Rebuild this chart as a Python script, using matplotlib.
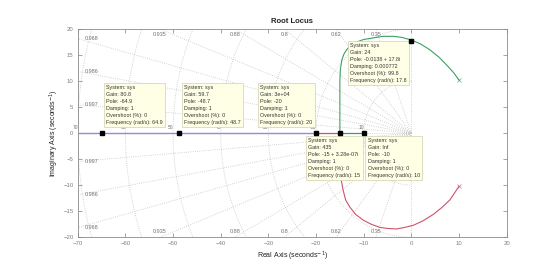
import numpy as np
import matplotlib
matplotlib.use('Agg')
import matplotlib.pyplot as plt

plt.rcParams['font.family'] = ['Liberation Sans', 'DejaVu Sans']

# branches
green_re = [10.0, 8.8, 7.4, 5.8, 3.9, 2.0, 0.0, -2.0, -3.8, -6.0, -8.0, -10.0, -11.5, -12.7,
            -13.6, -14.2, -14.6, -14.9, -15.0, -15.0]
green_im = [10.2, 11.7, 13.1, 14.6, 16.0, 17.1, 17.9, 18.4, 18.6, 18.6, 18.3, 18.0, 17.5, 16.9,
            16.0, 15.1, 14.0, 12.2, 10.0, 0.0]
red_re = [10.0, 9.2, 8.1, 6.5, 4.6, 2.5, 0.4, -1.4, -3.1, -4.9, -6.6, -8.4, -10.1, -11.7,
          -12.9, -13.8, -14.3, -14.8, -15.0, -15.0]
red_im = [-10.2, -11.3, -12.8, -14.2, -15.6, -16.8, -17.7, -18.1, -18.4, -18.3, -18.1, -17.5,
          -16.7, -15.6, -14.2, -12.8, -11.0, -8.6, -5.8, 0.0]
green_real_re = [-15.0, -10.0]
red_real_re = [-20.0, -15.0]
blue_re = [-70.0, -20.0]

pole_re = [10.0, 10.0, -20.0]
pole_im = [10.2, -10.2, 0.0]

damping = [0.35, 0.62, 0.8, 0.88, 0.935, 0.968, 0.986, 0.997]
freqs = [10, 20, 30, 40, 50, 60, 70]

tip_re = [-64.9, -48.7, -20.0, -0.0138, -15.0, -10.0]
tip_im = [0.0, 0.0, 0.0, 17.8, 0.0, 0.0]
tip_text = [
    'System: sys\nGain: 80.8\nPole: -64.9\nDamping: 1\nOvershoot (%): 0\nFrequency (rad/s): 64.9',
    'System: sys\nGain: 59.7\nPole: -48.7\nDamping: 1\nOvershoot (%): 0\nFrequency (rad/s): 48.7',
    'System: sys\nGain: 3e+04\nPole: -20\nDamping: 1\nOvershoot (%): 0\nFrequency (rad/s): 20',
    'System: sys\nGain: 24\nPole: -0.0138 + 17.8i\nDamping: 0.000772\nOvershoot (%): 99.8\nFrequency (rad/s): 17.8',
    'System: sys\nGain: 435\nPole: -15 + 3.28e-07i\nDamping: 1\nOvershoot (%): 0\nFrequency (rad/s): 15',
    'System: sys\nGain: Inf\nPole: -10\nDamping: 1\nOvershoot (%): 0\nFrequency (rad/s): 10',
]
tip_box = [(-64.0, 9.2), (-47.7, 9.2), (-31.7, 9.2), (-12.9, 17.3), (-21.6, -0.9), (-9.2, -0.9)]

grid_c = '#c4c4c4'
lab_c = '#707070'
blue = '#8c8ce0'
green = '#3f9f63'
red = '#d2506a'

fig = plt.figure(figsize=(5.6, 2.67), dpi=100)
ax = fig.add_axes([0.1388, 0.1112, 0.766, 0.780])
xmin, xmax, ymin, ymax = -70, 20, -20, 20

# damping lines
for z in damping:
    s = np.sqrt(1 - z**2)
    for sign in (1, -1):
        r = 200
        ax.plot([0, -z*r], [0, sign*s*r], ls=':', color=grid_c, lw=0.6, zorder=1)
    xt = -ymax*z/s
    if xt > xmin:
        ax.text(xt, 18.9, str(z), fontsize=4, color=lab_c, ha='center', va='center', zorder=2)
        ax.text(xt, -18.9, str(z), fontsize=4, color=lab_c, ha='center', va='center', zorder=2)
    else:
        yt = -xmin*s/z
        ax.text(-68.5, yt, str(z), fontsize=4, color=lab_c, ha='left', va='center', zorder=2)
        ax.text(-68.5, -yt, str(z), fontsize=4, color=lab_c, ha='left', va='center', zorder=2)
ax.plot([0, 0], [ymin, ymax], ls=':', color=grid_c, lw=0.6, zorder=1)
ax.plot([xmin, 0], [0, 0], ls=':', color=grid_c, lw=0.6, zorder=1)

# frequency circles
th = np.linspace(np.pi/2, 3*np.pi/2, 200)
for w in freqs:
    ax.plot(w*np.cos(th), w*np.sin(th), ls=':', color=grid_c, lw=0.6, zorder=1)
    ax.text(-w - 0.5, 0.6, str(w), fontsize=3.5, color=lab_c, ha='center', va='bottom', zorder=2)

# locus
ax.plot(blue_re, [0, 0], color=blue, lw=1.0, zorder=3)
ax.plot(red_real_re, [0, 0], color=red, lw=0.9, zorder=3)
ax.plot(green_real_re, [0, 0], color=green, lw=0.9, zorder=3)
ax.plot(green_re, green_im, color=green, lw=0.8, zorder=3)
ax.plot(red_re, red_im, color=red, lw=0.8, zorder=3)
ax.plot(pole_re[0], pole_im[0], 'x', color=green, ms=3, mew=0.6, zorder=4, alpha=0.7)
ax.plot(pole_re[1], pole_im[1], 'x', color=red, ms=3, mew=0.6, zorder=4, alpha=0.7)
ax.plot(pole_re[2], pole_im[2], 'x', color=blue, ms=3, mew=0.6, zorder=4, alpha=0.7)

# data tips
for i in range(len(tip_re)):
    ax.plot(tip_re[i], tip_im[i], 's', color='black', ms=3.2, zorder=6)
    bx, by = tip_box[i]
    ax.text(bx, by, tip_text[i], fontsize=3.9, color='#333333', ha='left', va='top',
            linespacing=1.5, zorder=5,
            bbox=dict(boxstyle='square,pad=0.4', fc='#ffffe6', ec='#d8d8b8', lw=0.6))

ax.set_xlim(xmin, xmax)
ax.set_ylim(ymin, ymax)
ax.set_xticks(range(-70, 21, 10))
ax.set_yticks(range(-20, 21, 5))
ax.tick_params(direction='in', length=3, width=0.5, colors='#808080', labelsize=4.3,
               top=True, right=True, labeltop=False, labelright=False, pad=3)
for sp in ax.spines.values():
    sp.set_color('#8a8a8a')
    sp.set_linewidth(0.6)
ax.set_title('Root Locus', fontsize=5.5, fontweight='bold', color='#222222', pad=4)
ax.set_xlabel('Real Axis (seconds$^{-1}$)', fontsize=5, color='#222222', labelpad=2)
ax.set_ylabel('Imaginary Axis (seconds$^{-1}$)', fontsize=5, color='#222222', labelpad=2)

fig.savefig('out.png', dpi=100)
